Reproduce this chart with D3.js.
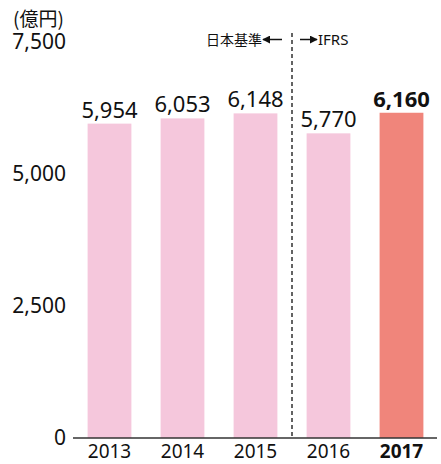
<!DOCTYPE html>
<html>
<head>
<meta charset="utf-8">
<script src="https://cdn.jsdelivr.net/npm/d3@7"></script>
<style>
  html, body { margin: 0; padding: 0; background: #fff; }
  svg { display: block; font-family: "Noto Sans", "Noto Sans CJK JP", sans-serif; }
</style>
</head>
<body>
<svg id="chart" width="441" height="464"></svg>
<script>
// Net sales by fiscal year (億円)
const years = ["2013", "2014", "2015", "2016", "2017"];
const sales = [5954, 6053, 6148, 5770, 6160];
const yTicks = [0, 2500, 5000, 7500];
const unitLabel = "(億円)";
const leftStandard = "日本基準";
const rightStandard = "IFRS";
const highlightYear = "2017";

const svg = d3.select("#chart");
const fmt = d3.format(",");
const numFont = "\"Noto Sans\", \"Open Sans\", sans-serif";
const jpFont = "\"Noto Sans CJK JP\", sans-serif";

const x = d3.scaleBand().domain(years).range([73, 438]).paddingInner(0.4).paddingOuter(0.2);
const y = d3.scaleLinear().domain([0, 7500]).range([438, 42]);

const pink = "#f5c7dc";
const salmon = "#f0857b";
const ink = "#111";

// Bars
svg.append("g").selectAll("rect")
  .data(years)
  .join("rect")
  .attr("x", d => x(d))
  .attr("width", x.bandwidth())
  .attr("y", (d, i) => y(sales[i]))
  .attr("height", (d, i) => y(0) - y(sales[i]))
  .attr("fill", d => d === highlightYear ? salmon : pink);

// Value labels
svg.append("g").selectAll("text")
  .data(years)
  .join("text")
  .attr("x", d => x(d) + x.bandwidth() / 2)
  .attr("y", (d, i) => y(sales[i]) - 6)
  .attr("text-anchor", "middle")
  .attr("font-family", numFont)
  .attr("font-size", 22)
  .attr("font-weight", d => d === highlightYear ? "bold" : "normal")
  .attr("fill", ink)
  .text((d, i) => fmt(sales[i]));

// Y axis (labels only)
const yAxis = svg.append("g")
  .attr("transform", "translate(66,0)")
  .call(d3.axisLeft(y).tickValues(yTicks).tickFormat(fmt).tickSize(0).tickPadding(0));
yAxis.select(".domain").remove();
yAxis.selectAll("text")
  .attr("font-size", 21).attr("fill", ink)
  .attr("font-family", numFont);

// X axis
const xAxis = svg.append("g")
  .attr("transform", `translate(0,${y(0)})`)
  .call(d3.axisBottom(x).tickSize(0).tickPadding(6.5));
xAxis.select(".domain").attr("stroke", "#333").attr("stroke-width", 1.6)
  .attr("d", "M73,0H437");
xAxis.selectAll("text")
  .attr("font-size", 19)
  .attr("fill", ink)
  .attr("font-family", numFont)
  .attr("font-weight", d => d === highlightYear ? "bold" : "normal");

// Unit label
svg.append("text")
  .attr("x", 13).attr("y", 26)
  .attr("font-family", jpFont)
  .attr("font-size", 19).attr("fill", ink)
  .text(unitLabel);

// Accounting standard divider
const divX = (x("2015") + x.bandwidth() + x("2016")) / 2;
svg.append("line")
  .attr("x1", divX).attr("x2", divX)
  .attr("y1", 33).attr("y2", y(0))
  .attr("stroke", "#222").attr("stroke-width", 1.4)
  .attr("stroke-dasharray", "4,3");

svg.append("defs").append("marker")
  .attr("id", "arrow")
  .attr("viewBox", "0 0 10 10")
  .attr("refX", 9).attr("refY", 5)
  .attr("markerWidth", 8).attr("markerHeight", 8)
  .attr("markerUnits", "userSpaceOnUse")
  .attr("orient", "auto")
  .append("path").attr("d", "M0,0L10,5L0,10Z").attr("fill", ink);

const arrowY = 39.5;
svg.append("line")
  .attr("x1", divX - 10).attr("x2", divX - 29)
  .attr("y1", arrowY).attr("y2", arrowY)
  .attr("stroke", ink).attr("stroke-width", 1.5)
  .attr("marker-end", "url(#arrow)");
svg.append("line")
  .attr("x1", divX + 8).attr("x2", divX + 25)
  .attr("y1", arrowY).attr("y2", arrowY)
  .attr("stroke", ink).attr("stroke-width", 1.5)
  .attr("marker-end", "url(#arrow)");

svg.append("text")
  .attr("x", divX - 30).attr("y", arrowY + 5)
  .attr("text-anchor", "end")
  .attr("font-family", jpFont)
  .attr("font-size", 14).attr("fill", ink)
  .text(leftStandard);
svg.append("text")
  .attr("x", divX + 26).attr("y", arrowY + 5)
  .attr("font-family", numFont)
  .attr("font-size", 15).attr("fill", ink)
  .text(rightStandard);
</script>
</body>
</html>
